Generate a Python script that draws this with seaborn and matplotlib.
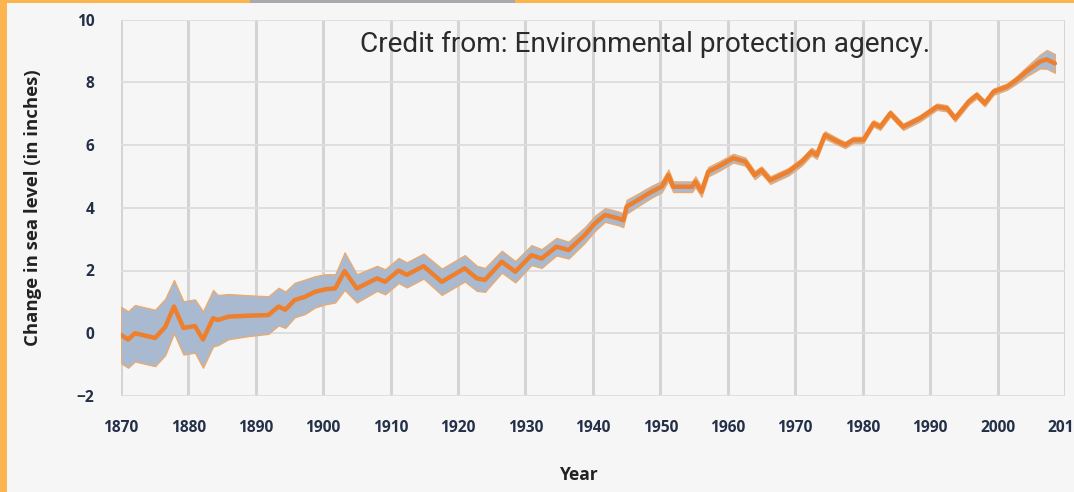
import matplotlib
matplotlib.use("Agg")
import matplotlib.pyplot as plt
import seaborn as sns
import pandas as pd

# ---- data ----
years = [1870.0, 1871.1, 1872.1, 1875.1, 1876.6, 1877.9, 1879.3, 1881.0, 1882.2, 1883.7,
         1884.4, 1886.0, 1889.0, 1891.9, 1893.4, 1894.4, 1895.8, 1897.3, 1898.8, 1900.3,
         1901.8, 1903.2, 1905.0, 1908.0, 1909.2, 1911.2, 1912.4, 1914.9, 1917.6, 1921.0,
         1922.8, 1924.0, 1926.5, 1928.5, 1930.9, 1932.4, 1934.6, 1936.4, 1938.8, 1940.3,
         1941.8, 1943.8, 1944.5, 1945.0, 1946.7, 1948.7, 1950.2, 1951.2, 1951.9, 1954.7,
         1955.2, 1956.1, 1957.1, 1958.6, 1960.8, 1962.6, 1964.0, 1965.0, 1966.3, 1969.0,
         1971.0, 1972.4, 1973.2, 1974.4, 1976.4, 1977.4, 1978.6, 1980.1, 1981.6, 1982.6,
         1984.1, 1986.0, 1988.5, 1991.0, 1992.5, 1993.7, 1995.7, 1996.9, 1998.1, 1999.4,
         2001.4, 2002.8, 2004.3, 2006.3, 2007.3, 2008.5]
sea_level = [-0.05, -0.2, 0.0, -0.15, 0.2, 0.85, 0.17, 0.23, -0.2, 0.48,
             0.42, 0.53, 0.56, 0.58, 0.85, 0.75, 1.06, 1.16, 1.32, 1.40,
             1.43, 1.98, 1.43, 1.75, 1.64, 2.0, 1.86, 2.14, 1.64, 2.07,
             1.75, 1.7, 2.28, 1.96, 2.49, 2.38, 2.76, 2.65, 3.13, 3.5,
             3.77, 3.66, 3.6, 4.03, 4.25, 4.51, 4.67, 5.04, 4.67, 4.67,
             4.83, 4.51, 5.15, 5.31, 5.58, 5.47, 5.04, 5.2, 4.88, 5.15,
             5.47, 5.79, 5.68, 6.32, 6.1, 6.0, 6.16, 6.16, 6.69, 6.58,
             7.01, 6.58, 6.85, 7.22, 7.17, 6.85, 7.38, 7.59, 7.33, 7.70,
             7.86, 8.07, 8.34, 8.66, 8.73, 8.6]
uncertainty = [0.9, 0.9, 0.9, 0.9, 0.9, 0.85, 0.85, 0.85, 0.9, 0.9,
               0.8, 0.72, 0.65, 0.6, 0.6, 0.58, 0.55, 0.55, 0.5, 0.48,
               0.45, 0.6, 0.45, 0.4, 0.4, 0.4, 0.4, 0.4, 0.42, 0.42,
               0.4, 0.38, 0.35, 0.34, 0.32, 0.3, 0.28, 0.27, 0.25, 0.24,
               0.22, 0.22, 0.22, 0.22, 0.2, 0.19, 0.18, 0.18, 0.17, 0.17,
               0.17, 0.16, 0.15, 0.15, 0.14, 0.13, 0.13, 0.12, 0.12, 0.12,
               0.12, 0.12, 0.12, 0.12, 0.1, 0.1, 0.1, 0.1, 0.1, 0.1,
               0.1, 0.1, 0.1, 0.1, 0.1, 0.1, 0.1, 0.1, 0.1, 0.1,
               0.1, 0.12, 0.15, 0.22, 0.3, 0.3]
x_ticks = list(range(1870, 2011, 10))
y_ticks = [-2, 0, 2, 4, 6, 8, 10]

df = pd.DataFrame({"Year": years, "Level": sea_level, "Err": uncertainty})
df["Low"] = df["Level"] - df["Err"]
df["High"] = df["Level"] + df["Err"]

# ---- styling ----
sns.set_theme(style="whitegrid")
plt.rcParams["font.family"] = ["Open Sans", "DejaVu Sans"]

BG = "#F6F6F6"
fig = plt.figure(figsize=(10.74, 4.92), dpi=100, facecolor=BG)
ax = fig.add_axes([120.7 / 1074, 1 - 396 / 492, (1065 - 120.7) / 1074, (396 - 19.5) / 492])
ax.set_facecolor(BG)

ax.fill_between(df["Year"], df["Low"], df["High"], facecolor="#A9BAD0",
                edgecolor="#F1A866", linewidth=0.9, zorder=2)
sns.lineplot(data=df, x="Year", y="Level", ax=ax, color="#EE7F2D",
             linewidth=3.2, zorder=3, legend=False)

ax.set_xlim(1870, 2010)
ax.set_ylim(-2, 10)
ax.set_xticks(x_ticks)
ax.set_yticks(y_ticks)
ax.xaxis.grid(True, color="#D4D4D6", linewidth=2.2)
ax.yaxis.grid(True, color="#DEDEE0", linewidth=1.4)
for s in ax.spines.values():
    s.set_visible(False)
ax.tick_params(axis="both", length=0, colors="#243047", labelsize=11.2)
ax.tick_params(axis="y", pad=19)
ax.tick_params(axis="x", pad=17)
for lab in ax.get_xticklabels() + ax.get_yticklabels():
    lab.set_fontweight("bold")

ax.set_xlabel("Year", fontsize=12.5, fontweight="bold", color="#222222")
ax.set_ylabel("Change in sea level (in inches)", fontsize=13.3, fontweight="bold", color="#222222")
ax.xaxis.set_label_coords(0.486, -0.187)
ax.yaxis.set_label_coords(-0.083, 0.5)

fig.text(360 / 1074, 1 - 52 / 492, "Credit from: Environmental protection agency.",
         family=["Roboto", "DejaVu Sans"], fontsize=20.2, color="#2B2B2B", va="baseline", ha="left")

# page frame (orange border on left and top, gray tab at top)
fig.patches.append(plt.Rectangle((0, 0), 7 / 1074, 1, transform=fig.transFigure,
                                 facecolor="#FBB44E", edgecolor="none", zorder=0))
fig.patches.append(plt.Rectangle((0, 1 - 3 / 492), 1, 3 / 492, transform=fig.transFigure,
                                 facecolor="#FBB44E", edgecolor="none", zorder=0))
fig.patches.append(plt.Rectangle((250 / 1074, 1 - 3 / 492), 265 / 1074, 3 / 492,
                                 transform=fig.transFigure, facecolor="#A9A9AE",
                                 edgecolor="none", zorder=1))

fig.savefig("out.png", dpi=100, facecolor=BG)
